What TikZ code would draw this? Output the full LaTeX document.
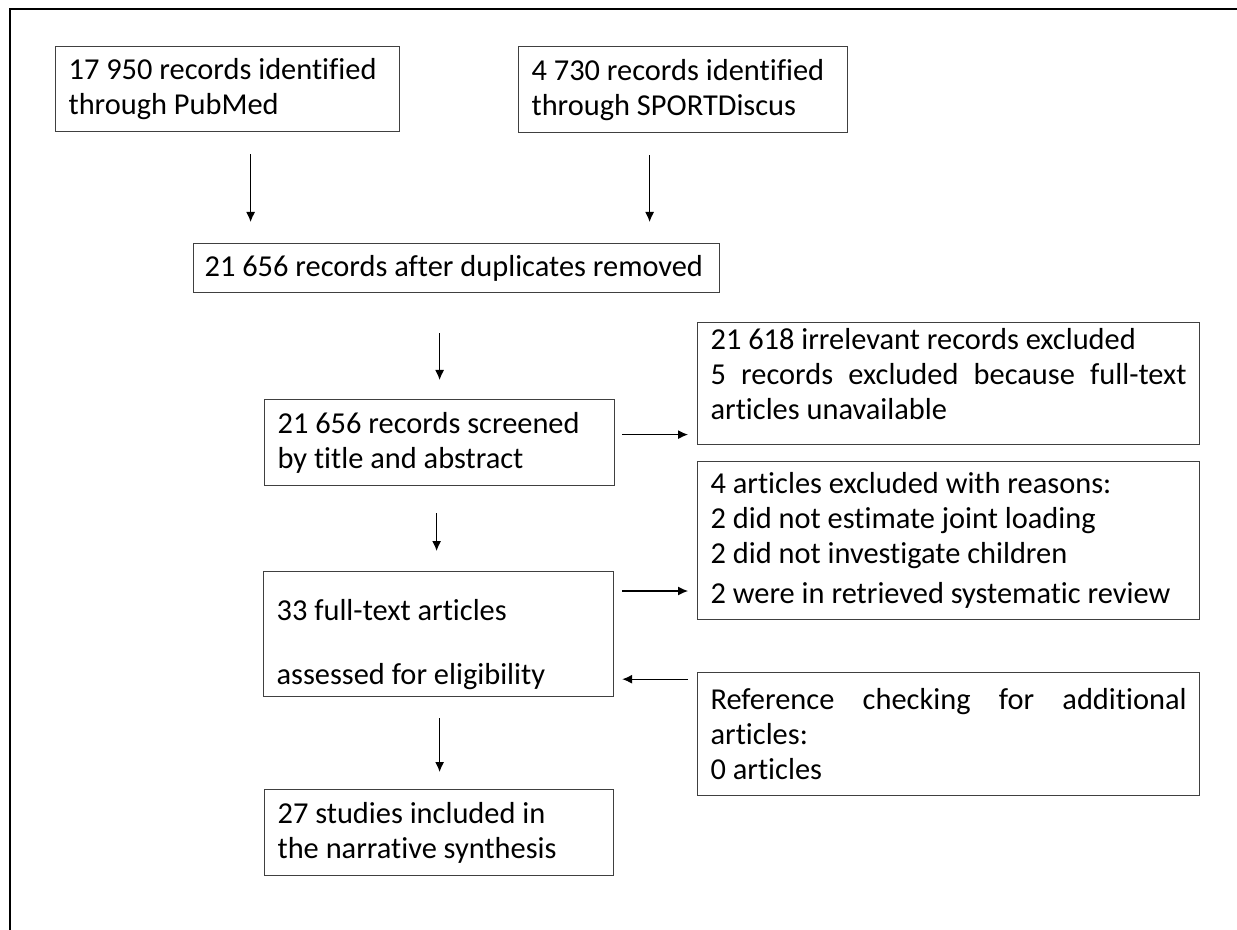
\documentclass[tikz,border=0pt]{standalone}
\usepackage{fontspec}
\setmainfont{Carlito}[Ligatures=CommonOff]
\usetikzlibrary{calc,arrows.meta}
\hyphenpenalty=10000
\tikzset{
	box/.style={draw=black!75, line width=0.6pt, anchor=north west, inner xsep=6.5pt, inner ysep=0pt, align=flush left, font=\fontsize{15.2}{17.5}\selectfont},
	jbox/.style={box, align=justify},
	arr/.style={line width=0.6pt, -{Latex[length=5pt,width=4.5pt]}}
}

\begin{document}
\begin{tikzpicture}[x=0.5pt, y=-0.5pt]
			%%%%% START %%%%%
			
			\useasboundingbox (0, 0) rectangle (1237, 930);
			\draw[line width=1pt] (10, 930) -- (10, 9) -- (1237, 9);
			
			\node[box, text width=159pt, minimum height=42.5pt] (pubmed) at (55, 46) {17~950 records identified\\through PubMed};
			\node[box, text width=151.5pt, minimum height=43pt] (sport) at (518, 46) {4~730 records identified\\through SPORTDiscus};
			
			\node[box, inner xsep=5.5pt, text width=252pt, minimum height=24.5pt] (dup) at (193, 243) {21~656 records after duplicates removed};
			
			\node[box, text width=162pt, minimum height=43pt] (screen) at (264, 399) {21~656 records screened\\by title and abstract};
			\node[jbox, text width=238pt, minimum height=61pt] (excl1) at (697, 322) {21~618 irrelevant records excluded\\5 records excluded because full-text\linebreak articles unavailable\par\vspace{10pt}\hrule height 0pt};
			
			\node[box, text width=238pt, minimum height=79pt] (excl2) at (697, 461) {4 articles excluded with reasons:\\2 did not estimate joint loading\\2 did not investigate children\\[2.5pt]2 were in retrieved systematic review};
			
			\node[box, text width=162pt, minimum height=62.5pt] (assess) at (263, 571) {\rule{0pt}{21pt}33 full-text articles\\[14.5pt]assessed for eligibility};
			\node[jbox, text width=238pt, minimum height=61.5pt] (ref) at (697, 672) {Reference checking for additional\linebreak articles:\\0 articles};
			
			\node[box, text width=161.5pt, minimum height=43pt] (final) at (264, 789) {27 studies included in\\the narrative synthesis};
			
			\draw[arr] ($(pubmed.south)+(23, 22)$) -- ($(pubmed.south |- dup.north)+(23, -21)$);
			\draw[arr] ($(sport.south)+(-33.5, 22)$) -- ($(sport.south |- dup.north)+(-33.5, -21)$);
			\draw[arr] ($(screen.north |- dup.south)+(0, 40)$) -- ($(screen.north)+(0, -19)$);
			\draw[arr] ($(screen.east)+(7, -8)$) -- ($(excl1.west |- screen.east)+(-9, -8)$);
			\draw[arr] ($(screen.south)+(-3, 27)$) -- ($(screen.south |- assess.north)+(-3, -20)$);
			\draw[arr] ($(assess.north east)+(8, 20)$) -- ($(excl2.west |- assess.north)+(-9, 20)$);
			\draw[arr] ($(ref.west |- assess.south)+(-9, -18)$) -- ($(assess.south east)+(8, -18)$);
			\draw[arr] ($(assess.south)+(1, 21)$) -- ($(assess.south |- final.north)+(1, -17)$);
			
			%%%%% END %%%%%
\end{tikzpicture}
\end{document}
